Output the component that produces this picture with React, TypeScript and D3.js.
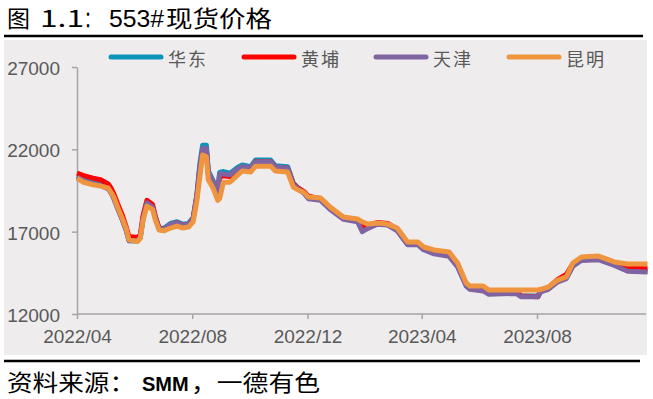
import { useEffect, useRef } from "react";
import * as d3 from "d3";

const dates = [
  "2022-04-01", "2022-04-08", "2022-04-18", "2022-04-26", "2022-05-04", "2022-05-07",
  "2022-05-10", "2022-05-14", "2022-05-19", "2022-05-23", "2022-05-26", "2022-06-04",
  "2022-06-07", "2022-06-10", "2022-06-14", "2022-06-20", "2022-06-23", "2022-06-27",
  "2022-07-02", "2022-07-09", "2022-07-16", "2022-07-22", "2022-07-28", "2022-08-02",
  "2022-08-06", "2022-08-09", "2022-08-12", "2022-08-16", "2022-08-18", "2022-08-23",
  "2022-08-28", "2022-08-30", "2022-09-03", "2022-09-10", "2022-09-18", "2022-09-23",
  "2022-10-02", "2022-10-07", "2022-10-23", "2022-10-28", "2022-11-10", "2022-11-16",
  "2022-11-21", "2022-11-27", "2022-12-02", "2022-12-15", "2022-12-25", "2023-01-08",
  "2023-01-23", "2023-01-28", "2023-02-03", "2023-02-13", "2023-02-24", "2023-03-06",
  "2023-03-17", "2023-03-28", "2023-04-03", "2023-04-14", "2023-04-30", "2023-05-09",
  "2023-05-18", "2023-05-22", "2023-06-05", "2023-06-11", "2023-07-10", "2023-07-15",
  "2023-08-02", "2023-08-05", "2023-08-13", "2023-08-23", "2023-09-01", "2023-09-08",
  "2023-09-17", "2023-10-05", "2023-10-22", "2023-11-05", "2023-11-26",
];

// 华东
const huadong = [
  20400, 20200, 20000, 19900, 19700, 19450, 19100, 18450, 17750, 17100, 16450, 16450,
  16650, 17850, 18800, 18550, 17850, 17200, 17200, 17500, 17600, 17450, 17500, 17850,
  19300, 21100, 22250, 22250, 20700, 20100, 19500, 20600, 20650, 20550, 20900, 21050,
  20950, 21350, 21350, 21000, 20950, 19950, 19650, 19400, 19050, 18950, 18400, 17800,
  17650, 17100, 17250, 17500, 17450, 17100, 16250, 16250, 15950, 15700, 15550, 14900,
  13750, 13550, 13450, 13250, 13300, 13100, 13100, 13400, 13550, 14000, 14200, 14950,
  15300, 15350, 15000, 14650, 14600,
];

// 黄埔
const huangpu = [
  20550, 20400, 20250, 20150, 19900, 19650, 19300, 18700, 18000, 17300, 16700, 16650,
  16800, 18000, 18900, 18650, 17900, 17200, 17150, 17400, 17550, 17400, 17450, 17800,
  19200, 20800, 21950, 21950, 20500, 19950, 19300, 20300, 20400, 20350, 20750, 20900,
  20850, 21250, 21250, 20900, 20850, 19900, 19650, 19450, 19150, 19000, 18450, 17850,
  17700, 17300, 17400, 17550, 17500, 17150, 16300, 16300, 16000, 15750, 15600, 14950,
  13800, 13650, 13600, 13400, 13400, 13100, 13050, 13450, 13600, 14100, 14400, 15050,
  15350, 15450, 15100, 14800, 14750,
];

// 天津
const tianjin = [
  20300, 20100, 19900, 19800, 19600, 19350, 19000, 18400, 17700, 17100, 16450, 16450,
  16650, 17800, 18750, 18500, 17800, 17150, 17150, 17450, 17550, 17400, 17450, 17800,
  19200, 20900, 22050, 22050, 20600, 20050, 19400, 20500, 20500, 20450, 20800, 20950,
  20900, 21250, 21250, 20950, 20850, 19850, 19600, 19350, 19000, 18900, 18350, 17750,
  17600, 17000, 17200, 17450, 17400, 17050, 16200, 16200, 15900, 15650, 15500, 14850,
  13700, 13500, 13400, 13200, 13250, 13050, 13050, 13350, 13500, 13950, 14150, 14900,
  15250, 15300, 14950, 14600, 14550,
];

// 昆明
const kunming = [
  20250, 20000, 19850, 19770, 19650, 19400, 19100, 18500, 17800, 17200, 16500, 16400,
  16600, 17700, 18550, 18350, 17700, 17100, 17050, 17220, 17340, 17220, 17280, 17600,
  18900, 20300, 21650, 21550, 20150, 19650, 18900, 19000, 20000, 20000, 20430, 20680,
  20620, 20980, 20980, 20680, 20620, 19710, 19530, 19400, 19100, 19040, 18500, 17890,
  17770, 17600, 17460, 17520, 17460, 17220, 16370, 16370, 16070, 15890, 15760, 15100,
  13880, 13700, 13700, 13460, 13460, 13460, 13460, 13500, 13640, 14060, 14250, 15100,
  15460, 15520, 15160, 15040, 15040,
];

const seriesNames = ["华东", "黄埔", "天津", "昆明"];
const seriesValues = [huadong, huangpu, tianjin, kunming];
const seriesColors = ["#0E93BA", "#FF0000", "#8064A2", "#F0953F"];

const yTicks = [12000, 17000, 22000, 27000];
const xTicks = ["2022-04-01", "2022-08-01", "2022-12-01", "2023-04-01", "2023-08-01"];

const cjk = "'Noto Sans CJK SC', sans-serif";
const latin = "'Liberation Sans', Arial, sans-serif";

const App = () => {
  const svgRef = useRef<SVGSVGElement | null>(null);

  useEffect(() => {
    const svg = d3.select(svgRef.current);
    svg.selectAll("*").remove();

    const width = 653;
    const height = 399;
    svg.attr("width", width).attr("height", height);

    const parse = d3.timeParse("%Y-%m-%d");
    const xDates = dates.map((d) => parse(d) as Date);

    const x = d3
      .scaleTime()
      .domain([parse(xTicks[0]) as Date, parse(xTicks[4]) as Date])
      .range([77, 537]);
    const y = d3.scaleLinear().domain([12000, 27000]).range([314, 67]);

    svg.append("rect").attr("width", width).attr("height", height).attr("fill", "#fff");
    svg
      .append("rect")
      .attr("x", 4)
      .attr("y", 40)
      .attr("width", 643)
      .attr("height", 315)
      .attr("fill", "#EEECED");

    // title and source pieces, squeezed to the widths of the reference
    const addPiece = (
      sel: d3.Selection<SVGTextElement, unknown, null, undefined>,
      xPos: number,
      txt: string,
      len: number | null,
      font: string,
      size: number,
      weight = "normal"
    ) => {
      const t = sel
        .append("tspan")
        .attr("x", xPos)
        .style("font-family", font)
        .style("font-size", `${size}px`)
        .style("font-weight", weight)
        .text(txt);
      if (len) t.attr("textLength", len).attr("lengthAdjust", "spacingAndGlyphs");
    };

    const title = svg.append("text").attr("y", 27).attr("fill", "#000");
    addPiece(title, 7, "图", 23, cjk, 23);
    addPiece(title, 40, "1.1", 44, cjk, 23);
    addPiece(title, 84, "：", 16, cjk, 23);
    addPiece(title, 109, "553#", 55, latin, 24, "500");
    addPiece(title, 166, "现货价格", 106, cjk, 23);

    svg
      .append("line")
      .attr("x1", 4)
      .attr("x2", 643)
      .attr("y1", 36)
      .attr("y2", 36)
      .attr("stroke", "#000")
      .attr("stroke-width", 2.5);
    svg
      .append("line")
      .attr("x1", 4)
      .attr("x2", 640)
      .attr("y1", 361)
      .attr("y2", 361)
      .attr("stroke", "#000")
      .attr("stroke-width", 2.5);

    const src = svg.append("text").attr("y", 391).attr("fill", "#000");
    addPiece(src, 7, "资料来源：", 128, cjk, 23);
    addPiece(src, 142, "SMM", null, latin, 20, "600");
    addPiece(src, 191, "，一德有色", 129, cjk, 23);

    // axes
    const xAxis = svg
      .append("g")
      .attr("transform", "translate(0,314)")
      .call(
        d3
          .axisBottom(x)
          .tickValues(xTicks.map((d) => parse(d) as Date))
          .tickFormat((d) => d3.timeFormat("%Y/%m")(d as Date))
          .tickSize(5)
          .tickSizeOuter(0)
      );
    xAxis.select(".domain").remove();
    xAxis
      .append("line")
      .attr("x1", 77)
      .attr("x2", 646)
      .attr("stroke", "#A6A6A6")
      .attr("stroke-width", 1.5);
    xAxis.selectAll(".tick line").attr("stroke", "#A6A6A6").attr("stroke-width", 1.5);
    xAxis
      .selectAll(".tick text")
      .attr("y", 16)
      .attr("fill", "#595959")
      .style("font-family", latin)
      .style("font-size", "19px");

    const yAxis = svg
      .append("g")
      .attr("transform", "translate(77,0)")
      .call(d3.axisLeft(y).tickValues(yTicks).tickFormat(d3.format("d")).tickSize(5).tickSizeOuter(0));
    yAxis.select(".domain").attr("stroke", "#A6A6A6").attr("stroke-width", 1.5);
    yAxis.selectAll(".tick line").attr("stroke", "#A6A6A6").attr("stroke-width", 1.5);
    yAxis
      .selectAll(".tick text")
      .attr("x", -17)
      .attr("dy", "0.4em")
      .attr("fill", "#595959")
      .style("font-family", latin)
      .style("font-size", "19px");

    // lines
    const line = d3
      .line<number>()
      .x((_, i) => x(xDates[i]))
      .y((d) => y(d));

    seriesValues.forEach((vals, i) => {
      svg
        .append("path")
        .datum(vals)
        .attr("fill", "none")
        .attr("stroke", seriesColors[i])
        .attr("stroke-width", 5)
        .attr("stroke-linejoin", "round")
        .attr("d", line);
    });

    // legend
    const legendX = [109, 242, 374, 507];
    seriesNames.forEach((name, i) => {
      svg
        .append("line")
        .attr("x1", legendX[i] + 2)
        .attr("x2", legendX[i] + 52)
        .attr("y1", 57)
        .attr("y2", 57)
        .attr("stroke", seriesColors[i])
        .attr("stroke-width", 5)
        .attr("stroke-linecap", "round");
      svg
        .append("text")
        .attr("x", legendX[i] + 59)
        .attr("y", 66)
        .attr("fill", "#595959")
        .style("font-family", cjk)
        .style("font-size", "18px")
        .style("letter-spacing", "2px")
        .text(name);
    });
  }, []);

  return (
    <div style={{ position: "absolute", left: 0, top: 0 }}>
      <svg ref={svgRef} style={{ display: "block" }} />
    </div>
  );
};

export default App;
